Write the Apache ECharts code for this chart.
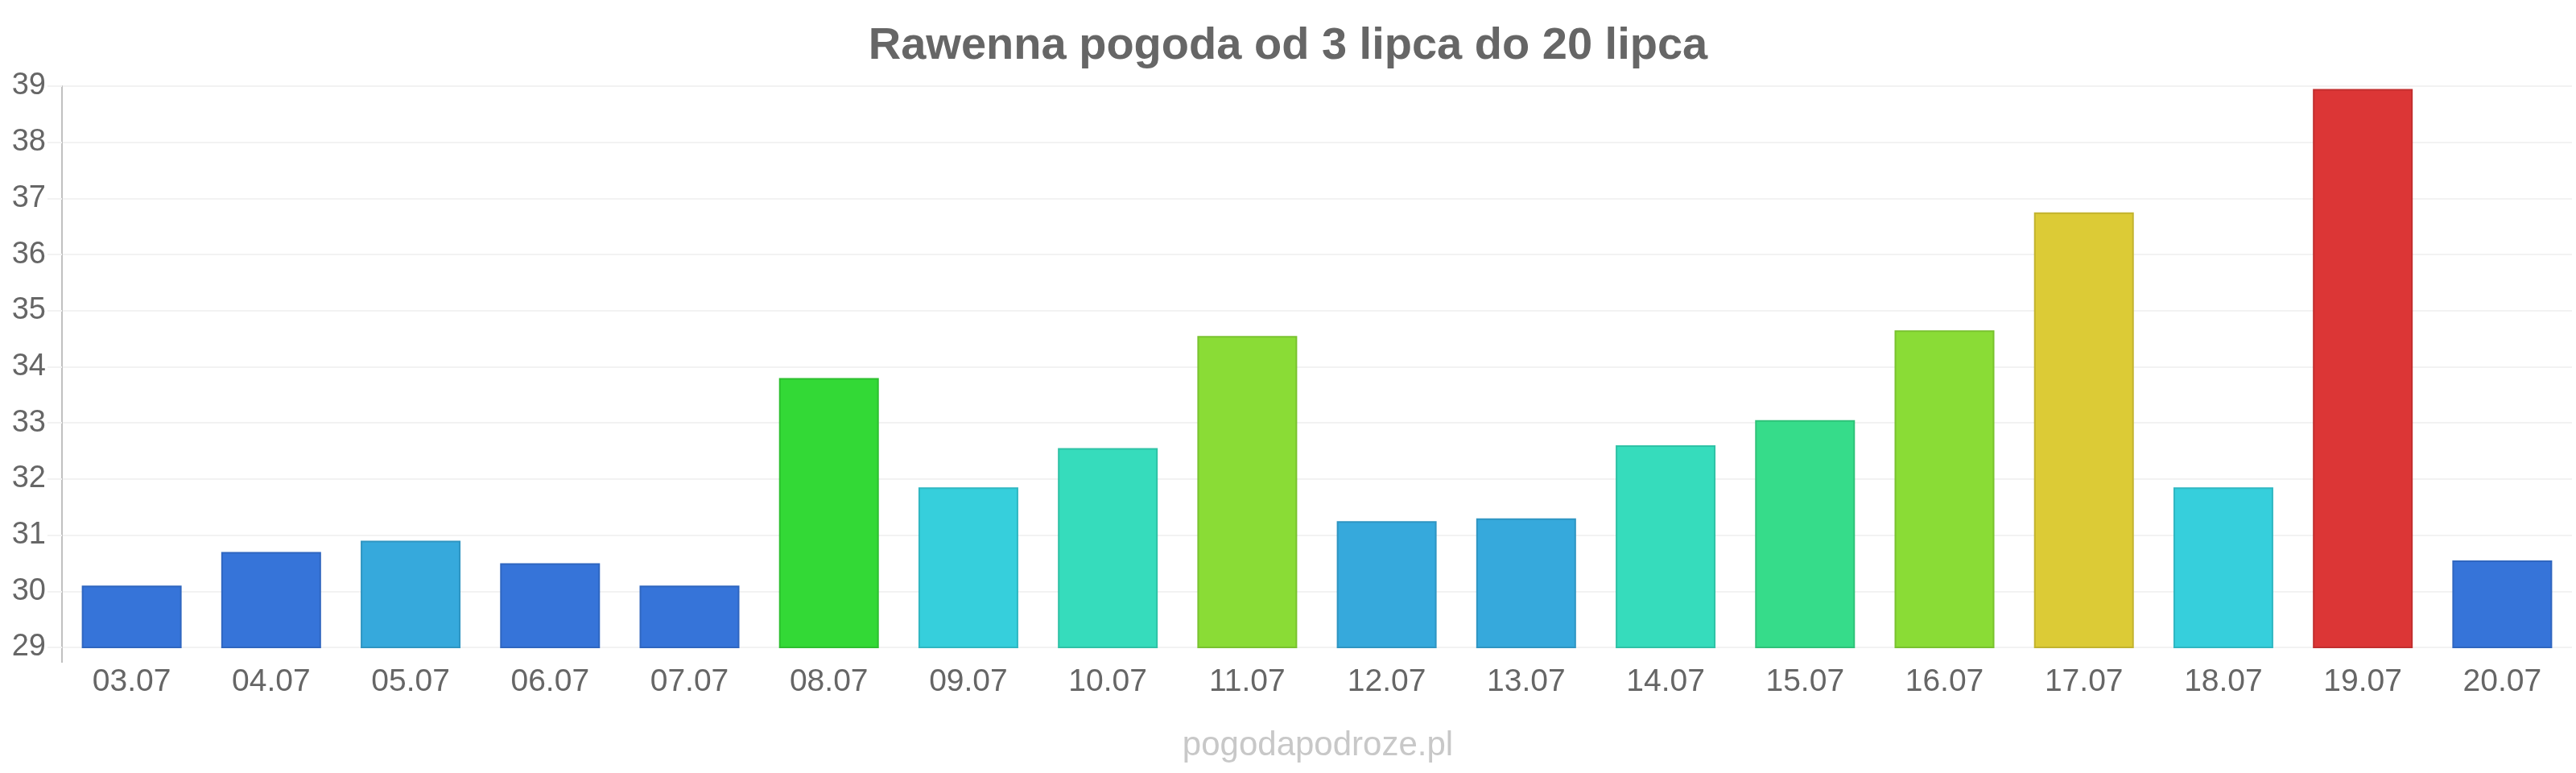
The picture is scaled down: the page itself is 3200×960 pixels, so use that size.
<!DOCTYPE html>
<html>
<head>
<meta charset="utf-8">
<style>
  html, body { margin: 0; padding: 0; background: #fff; }
  #chart { width: 3200px; height: 960px; }
</style>
<script src="https://cdn.jsdelivr.net/npm/echarts@6/dist/echarts.min.js"></script>
</head>
<body>
<div id="chart"></div>
<script>
const days = ['03.07', '04.07', '05.07', '06.07', '07.07', '08.07', '09.07', '10.07', '11.07',
  '12.07', '13.07', '14.07', '15.07', '16.07', '17.07', '18.07', '19.07', '20.07'];
const temps = [30.1, 30.7, 30.9, 30.5, 30.1, 33.8, 31.85, 32.55, 34.55,
  31.25, 31.3, 32.6, 33.05, 34.65, 36.75, 31.85, 38.95, 30.55];
const yTicks = [29, 30, 31, 32, 33, 34, 35, 36, 37, 38, 39];

// temperature bands -> bar colour [upper limit, fill, border]
const bands = [
  [30.8, '#3674d9', '#2f66c0'],
  [31.5, '#36a9dc', '#2f95c2'],
  [32.2, '#36cfdc', '#2fb7c2'],
  [32.9, '#36dcbc', '#2fc2a6'],
  [33.5, '#36dc8a', '#2fc279'],
  [34.2, '#33d936', '#2dbf2f'],
  [35.5, '#8adc36', '#79c22f'],
  [38, '#dccb36', '#c2b32f'],
  [99, '#dc3636', '#c22f2f']
];
const bandFor = v => bands.find(b => v < b[0]);

const chart = echarts.init(document.getElementById('chart'));
const font = '"Liberation Sans", Arial, sans-serif';

chart.setOption({
  animation: false,
  title: {
    text: 'Rawenna pogoda od 3 lipca do 20 lipca',
    left: 'center',
    top: 25,
    textStyle: { fontFamily: font, fontSize: 56, fontWeight: 'bold', color: '#666666' }
  },
  graphic: [
    {
      type: 'text',
      x: 1637,
      y: 905,
      style: { text: 'pogodapodroze.pl', textAlign: 'center', fontFamily: font, fontSize: 42, fill: '#c8c8c8' }
    },
    {
      type: 'line',
      shape: { x1: 77, y1: 804, x2: 77, y2: 823 },
      style: { stroke: '#c0c0c0', lineWidth: 2 }
    }
  ],
  grid: { left: 77, right: 5, top: 107, bottom: 156, containLabel: false },
  xAxis: {
    type: 'category',
    data: days,
    axisLine: { show: false },
    axisTick: { show: false },
    axisLabel: { color: '#666666', fontFamily: font, fontSize: 39, margin: 24 }
  },
  yAxis: {
    type: 'value',
    min: yTicks[0],
    max: yTicks[yTicks.length - 1],
    interval: 1,
    axisLine: { show: true, lineStyle: { color: '#c0c0c0', width: 2 } },
    axisTick: { show: true, length: 18, lineStyle: { color: '#f2f2f2', width: 2 } },
    splitLine: { lineStyle: { color: '#f2f2f2', width: 2 } },
    axisLabel: { color: '#666666', fontFamily: font, fontSize: 38, margin: 20 }
  },
  series: [{
    type: 'bar',
    barWidth: 124,
    data: temps.map(v => {
      const b = bandFor(v);
      return { value: v, itemStyle: { color: b[1], borderColor: b[2], borderWidth: 2 } };
    })
  }]
});
</script>
</body>
</html>
